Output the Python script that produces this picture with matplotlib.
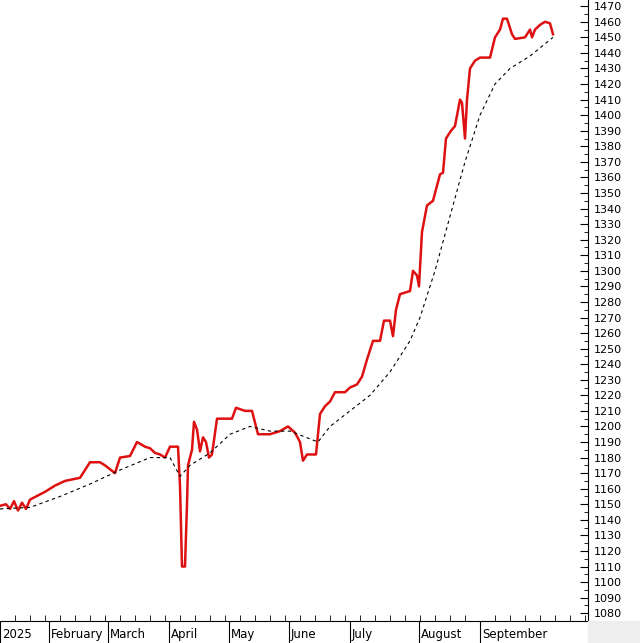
import matplotlib.pyplot as plt
import numpy as np

months = ['2025', 'February', 'March', 'April', 'May', 'June', 'July', 'August', 'September']
month_pos = [0, 49, 108, 169, 229, 289, 350, 419, 480]

# close price (x in chart units)
x_close = [0, 6, 10, 14, 18, 22, 26, 28, 30, 45, 55, 65, 80, 90, 100, 105, 115, 120, 130, 137,
           145, 150, 155, 160, 165, 170, 178, 180, 182, 185, 187, 188, 192, 194, 197, 200, 203,
           206, 209, 212, 217, 222, 232, 236, 245, 252, 258, 270, 280, 288, 295, 300, 303, 307,
           316, 318, 320, 325, 330, 335, 345, 350, 357, 362, 367, 373, 380, 384, 390, 393, 396,
           400, 410, 413, 417, 419, 422, 427, 433, 440, 443, 446, 451, 455, 460, 462, 465, 467,
           470, 475, 480, 490, 495, 500, 503, 507, 512, 515, 525, 530, 532, 535, 540, 545, 550,
           553]
close = [1149, 1150, 1147, 1152, 1146, 1151, 1147, 1150, 1153, 1158, 1162, 1165, 1167, 1177,
         1177, 1175, 1170, 1180, 1181, 1190, 1187, 1186, 1183, 1182, 1180, 1187, 1187, 1162,
         1110, 1110, 1150, 1175, 1185, 1203, 1198, 1184, 1193, 1190, 1180, 1182, 1205, 1205,
         1205, 1212, 1210, 1210, 1195, 1195, 1197, 1200, 1196, 1190, 1178, 1182, 1182, 1195,
         1208, 1213, 1216, 1222, 1222, 1225, 1227, 1232, 1243, 1255, 1255, 1268, 1268, 1258,
         1275, 1285, 1287, 1300, 1297, 1290, 1325, 1342, 1345, 1362, 1363, 1385, 1390, 1393,
         1410, 1408, 1385, 1410, 1430, 1435, 1437, 1437, 1450, 1455, 1462, 1462, 1452, 1449,
         1450, 1455, 1450, 1455, 1458, 1460, 1459, 1452]

# moving average
x_ma = [0, 30, 60, 90, 120, 150, 170, 180, 190, 210, 230, 250, 270, 290, 318, 330, 350, 370, 390,
        410, 420, 435, 450, 465, 480, 495, 510, 530, 553]
ma = [1147, 1148, 1155, 1163, 1172, 1180, 1180, 1168, 1175, 1183, 1195, 1200, 1197, 1197,
      1190, 1200, 1210, 1220, 1235, 1255, 1270, 1300, 1335, 1370, 1400, 1420, 1430, 1438, 1450]

fig = plt.figure(figsize=(6.4, 6.43), dpi=100)
fig.patches.append(plt.Rectangle((588 / 640, 0), 52 / 640, 22 / 643, transform=fig.transFigure,
                                 color='#eeeeee', zorder=0))
ax = fig.add_axes([0, 22 / 643, 588 / 640, 621 / 643])
ax.plot(x_close, close, color='#dd1111', lw=1.8)
ax.plot(x_ma, ma, color='black', lw=0.8, ls=(0, (3, 3)))

ax.set_xlim(0, 588)
ax.set_ylim(1075, 1474)
ax.yaxis.tick_right()
ax.set_yticks(np.arange(1080, 1471, 10))
ax.set_yticks(np.arange(1075, 1471, 5), minor=True)
ax.tick_params(axis='y', labelsize=8, length=6, direction='in', pad=4)
ax.tick_params(axis='y', which='minor', length=3, direction='in')
ax.set_xticks(month_pos)
ax.set_xticklabels(months, ha='left', fontsize=8.5)
ax.set_xticks(np.arange(0, 588, 15), minor=True)
ax.tick_params(axis='x', length=22, direction='out', pad=-17)
ax.tick_params(axis='x', which='minor', length=4, direction='in')
for lab in ax.get_xticklabels():
    lab.set_x(0)
import matplotlib.transforms as mt
off = mt.ScaledTranslation(2 / 100, 0, fig.dpi_scale_trans)
for lab in ax.get_xticklabels():
    lab.set_transform(lab.get_transform() + off)
for s in ['top', 'left']:
    ax.spines[s].set_visible(False)
fig.savefig('out.png', dpi=100)
